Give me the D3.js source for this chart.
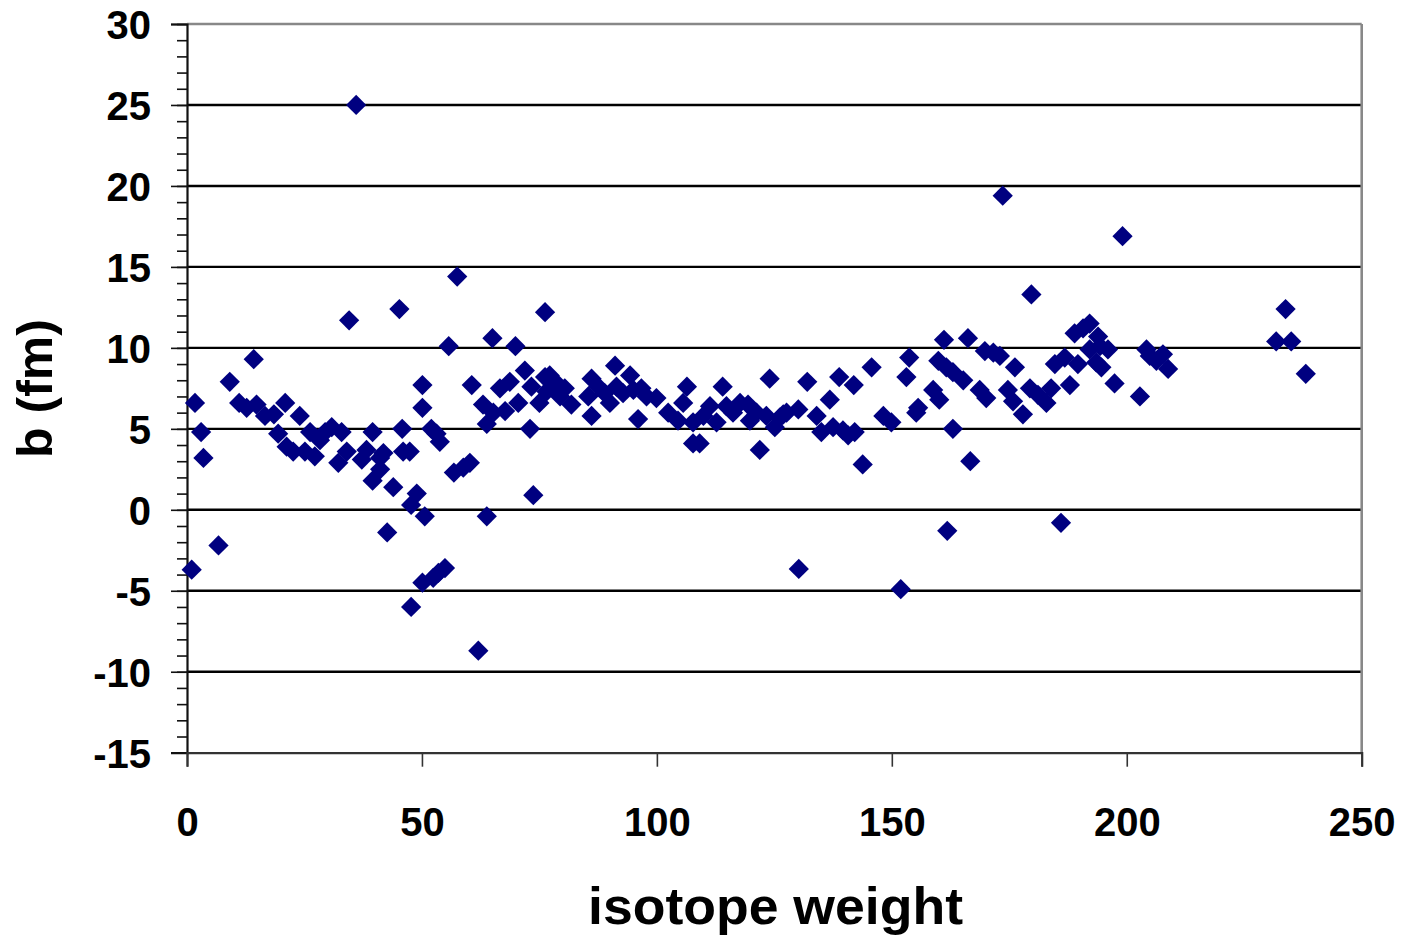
<!DOCTYPE html>
<html>
<head>
<meta charset="utf-8">
<script src="https://cdn.jsdelivr.net/npm/d3@7"></script>
<style>
  html, body { margin: 0; padding: 0; background: #fff; }
  svg { display: block; }
  text { font-family: "Liberation Sans", Arial, sans-serif; font-weight: bold; fill: #000; }
</style>
</head>
<body>
<svg id="chart" width="1406" height="941"></svg>
<script>
// Isotope weight (x) and bound coherent scattering length b in fm (y)
const weights = [
  1.0, 1.7, 3.0, 3.5, 6.7, 9.1, 11.1, 12.7, 14.2, 14.8,
  16.6, 18.5, 19.4, 20.9, 21.2, 22.6, 24.0, 25.1, 26.2, 27.2,
  28.3, 29.4, 30.8, 32.2, 32.9, 34.0, 34.5, 36.0, 37.2, 38.2,
  39.5, 39.5, 41.1, 41.8, 41.1, 42.6, 43.9, 45.2, 45.8, 46.0,
  47.4, 47.7, 47.7, 48.9, 50.1, 50.1, 50.6, 50.1, 52.0, 52.4,
  53.1, 53.8, 53.5, 54.9, 55.7, 56.8, 57.5, 58.8, 60.2, 60.6,
  62.0, 63.0, 63.8, 63.8, 65.0, 65.2, 66.6, 67.7, 68.7, 69.9,
  70.5, 71.9, 73.0, 73.3, 73.7, 75.0, 76.2, 76.2, 76.5, 77.2,
  78.7, 79.4, 80.4, 81.8, 85.4, 86.1, 86.1, 87.5, 88.9, 90.0,
  91.1, 91.4, 92.8, 94.3, 95.0, 96.0, 96.7, 97.8, 99.9, 102.4,
  104.5, 105.6, 106.4, 107.7, 107.7, 109.1, 109.9, 111.3, 112.7, 114.0,
  114.8, 116.2, 117.7, 119.4, 119.8, 121.2, 121.9, 123.3, 124.0, 125.1,
  126.2, 126.9, 127.6, 130.1, 130.2, 132.0, 134.0, 135.0, 136.8, 137.5,
  138.8, 139.6, 140.7, 141.9, 142.1, 143.8, 145.7, 148.2, 149.9, 151.9,
  153.1, 153.7, 155.2, 155.6, 158.8, 159.9, 160.1, 161.1, 161.6, 161.8,
  163.0, 163.0, 165.2, 166.2, 166.7, 168.7, 169.8, 170.1, 171.6, 173.0,
  173.6, 174.7, 175.8, 176.2, 177.9, 179.4, 179.7, 181.1, 182.9, 183.9,
  184.7, 186.0, 186.8, 187.9, 188.9, 189.6, 190.7, 192.1, 192.1, 193.5,
  193.9, 194.3, 194.6, 196.0, 197.4, 199.1, 202.8, 204.2, 204.9, 206.3,
  207.7, 208.8, 231.8, 233.8, 235.0, 238.1
];
const lengths = [
  -3.7, 6.6, 4.8, 3.2, -2.2, 7.9, 6.6, 6.3, 9.3, 6.5,
  5.8, 5.9, 4.7, 6.6, 3.9, 3.6, 5.8, 3.6, 4.8, 3.3,
  4.3, 4.8, 5.1, 2.9, 4.8, 3.6, 11.7, 25.0, 3.1, 3.7,
  4.8, 1.8, 3.2, 3.5, 2.5, -1.4, 1.4, 12.4, 5.0, 3.6,
  3.6, 0.3, -6.0, 1.0, 7.7, 6.3, -0.4, -4.5, 5.0, -4.2,
  4.7, 4.2, -3.9, -3.6, 10.1, 2.3, 14.4, 2.6, 2.9, 7.7,
  -8.7, 6.5, 5.3, -0.4, 10.6, 6.0, 7.5, 6.1, 7.9, 10.1,
  6.6, 8.6, 5.0, 7.6, 0.9, 6.6, 12.2, 8.2, 7.3, 8.3,
  7.8, 7.0, 7.5, 6.5, 7.0, 8.1, 5.8, 7.6, 7.2, 6.6,
  8.9, 7.6, 7.2, 8.3, 7.4, 5.6, 7.5, 7.0, 6.9, 6.0,
  5.5, 6.6, 7.6, 5.4, 4.1, 4.1, 5.8, 6.4, 5.4, 7.6,
  6.4, 6.0, 6.6, 6.5, 5.5, 6.0, 3.7, 5.8, 8.1, 5.1,
  5.7, 5.9, 6.0, 6.2, -3.65, 7.9, 5.8, 4.8, 6.8, 5.1,
  8.2, 4.9, 4.6, 7.7, 4.8, 2.8, 8.8, 5.8, 5.4, -4.9,
  8.2, 9.4, 6.0, 6.3, 7.4, 9.2, 6.8, 10.5, 8.8, -1.3,
  8.5, 5.0, 8.0, 10.6, 3.0, 7.4, 9.8, 6.9, 9.7, 9.5,
  19.4, 7.4, 6.7, 8.8, 5.9, 7.5, 13.3, 7.1, 6.6, 7.5,
  9.0, -0.8, 9.4, 7.7, 10.9, 9.0, 11.2, 11.5, 9.9, 9.1,
  10.7, 10.1, 8.8, 9.9, 7.8, 16.9, 7.0, 9.9, 9.5, 9.2,
  9.6, 8.7, 10.4, 12.4, 10.4, 8.4
];
const xTicks = [0, 50, 100, 150, 200, 250];
const yTicks = [-15, -10, -5, 0, 5, 10, 15, 20, 25, 30];
const yMinorTicks = d3.range(-15, 31, 1);
const xTitle = "isotope weight";
const yTitle = "b (fm)";

const points = weights.map((w, i) => ({ x: w, y: lengths[i] }));

const svg = d3.select("#chart");
const plotLeft = 187, plotRight = 1361.7, plotTop = 24, plotBottom = 752.7;

const x = d3.scaleLinear().domain([0, 250]).range([plotLeft, plotRight]);
const y = d3.scaleLinear().domain([-15, 30]).range([plotBottom, plotTop]);

svg.append("rect").attr("width", 1406).attr("height", 941).attr("fill", "#fff");

// horizontal gridlines at the inner major ticks
svg.append("g")
  .selectAll("line")
  .data(yTicks.filter(t => t > -15 && t < 30))
  .join("line")
  .attr("x1", plotLeft).attr("x2", plotRight)
  .attr("y1", d => y(d)).attr("y2", d => y(d))
  .attr("stroke", "#000").attr("stroke-width", 2.4);

// plot frame: grey top and right edges
svg.append("line")
  .attr("x1", plotLeft).attr("x2", plotRight).attr("y1", plotTop).attr("y2", plotTop)
  .attr("stroke", "#888").attr("stroke-width", 2.6);
svg.append("line")
  .attr("x1", plotRight).attr("x2", plotRight).attr("y1", plotTop).attr("y2", plotBottom)
  .attr("stroke", "#888").attr("stroke-width", 2.6);

// y axis: minor ticks, then major ticks with labels
svg.append("g")
  .attr("transform", `translate(${plotLeft},0)`)
  .call(d3.axisLeft(y).tickValues(yMinorTicks).tickSize(10).tickFormat(""))
  .call(g => g.select(".domain").remove())
  .call(g => g.selectAll("line").attr("stroke", "#111").attr("stroke-width", 1.6));

const yAxis = svg.append("g")
  .attr("transform", `translate(${plotLeft},0)`)
  .call(d3.axisLeft(y).tickValues(yTicks).tickSize(16).tickPadding(20).tickFormat(d => String(d)));
yAxis.select(".domain").attr("stroke", "#111").attr("stroke-width", 2.2);
yAxis.selectAll("line").attr("stroke", "#111").attr("stroke-width", 1.6);
yAxis.selectAll("text")
  .attr("dy", "0.36em")
  .style("font-family", '"Liberation Sans", Arial, sans-serif')
  .style("font-weight", "bold").style("font-size", "40px").attr("fill", "#000");

// x axis along the bottom
const xAxis = svg.append("g")
  .attr("transform", `translate(0,${plotBottom})`)
  .call(d3.axisBottom(x).tickValues(xTicks).tickSize(14).tickPadding(41).tickFormat(d => String(d)));
xAxis.select(".domain").attr("stroke", "#333").attr("stroke-width", 2.2);
xAxis.selectAll("line").attr("stroke", "#333").attr("stroke-width", 1.6);
xAxis.selectAll("text")
  .style("font-family", '"Liberation Sans", Arial, sans-serif')
  .style("font-weight", "bold").style("font-size", "40px").attr("fill", "#000");

// diamond markers
const diamond = d3.symbol().type(d3.symbolSquare).size(205);
svg.append("g")
  .selectAll("path")
  .data(points)
  .join("path")
  .attr("d", diamond)
  .attr("transform", d => `translate(${x(d.x)},${y(d.y)}) rotate(45)`)
  .attr("fill", "#000080");

// axis titles
svg.append("text")
  .attr("x", 775.5).attr("y", 924)
  .attr("text-anchor", "middle")
  .attr("textLength", 375).attr("lengthAdjust", "spacingAndGlyphs")
  .style("font-size", "52px")
  .text(xTitle);

svg.append("text")
  .attr("transform", "translate(52,388.5) rotate(-90)")
  .attr("text-anchor", "middle")
  .style("font-size", "50px")
  .text(yTitle);
</script>
</body>
</html>
